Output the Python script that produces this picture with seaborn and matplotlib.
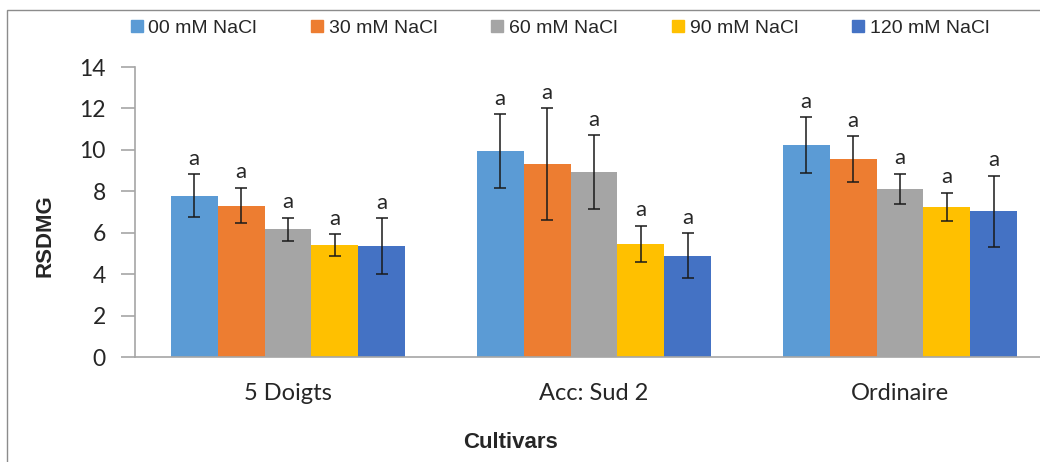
import matplotlib
matplotlib.use("Agg")
import matplotlib.pyplot as plt
from matplotlib.patches import Rectangle
from matplotlib.lines import Line2D
import numpy as np
import pandas as pd
import seaborn as sns

# Cultivars and salt treatments
cultivars = ["5 Doigts", "Acc: Sud 2", "Ordinaire"]
treatments = ["00 mM NaCl", "30 mM NaCl", "60 mM NaCl", "90 mM NaCl", "120 mM NaCl"]

# Mean RSDMG per treatment, one value per cultivar
mean_00 = [7.79, 9.94, 10.24]
mean_30 = [7.31, 9.31, 9.55]
mean_60 = [6.16, 8.92, 8.11]
mean_90 = [5.40, 5.47, 7.24]
mean_120 = [5.34, 4.90, 7.03]

# Error (± half-range) per treatment
err_00 = [1.03, 1.77, 1.34]
err_30 = [0.85, 2.70, 1.10]
err_60 = [0.57, 1.78, 0.73]
err_90 = [0.53, 0.86, 0.69]
err_120 = [1.35, 1.07, 1.73]

# Significance letters
letters = ["a", "a", "a", "a", "a"]

colors = ["#5B9BD5", "#ED7D31", "#A5A5A5", "#FFC000", "#4472C4"]

means = [mean_00, mean_30, mean_60, mean_90, mean_120]
errs = [err_00, err_30, err_60, err_90, err_120]

rows = []
for t, m, e in zip(treatments, means, errs):
    for c, mv, ev in zip(cultivars, m, e):
        rows.append({"Cultivar": c, "Treatment": t, "RSDMG": mv, "err": ev})
df = pd.DataFrame(rows)

sns.set_theme(style="white")
plt.rcParams["font.family"] = ["Lato", "DejaVu Sans"]

W, H = 1040, 462
fig = plt.figure(figsize=(W / 100, H / 100), dpi=100)

# chart-area border
fig.patches.append(Rectangle((7 / W, -0.1), 1.2, 1.1 - 10 / H, transform=fig.transFigure,
                             fill=False, edgecolor="#8c8c8c", linewidth=1.0, zorder=0))

ax = fig.add_axes([135 / W, 105 / H, (1053 - 135) / W, 290 / H])
sns.barplot(data=df, x="Cultivar", y="RSDMG", hue="Treatment", order=cultivars,
            hue_order=treatments, palette=colors, width=0.767, gap=0,
            errorbar=None, saturation=1, legend=False, ax=ax)

# error bars and letters, bars ordered by hue then category
for i, t in enumerate(treatments):
    sub = df[df["Treatment"] == t].set_index("Cultivar").loc[cultivars]
    bars = ax.containers[i]
    xs = [b.get_x() + b.get_width() / 2 for b in bars]
    ax.errorbar(xs, sub["RSDMG"], yerr=sub["err"], fmt="none", ecolor="#1a1a1a",
                elinewidth=1.1, capsize=4.3, capthick=1.1, zorder=5)
    for x, v, e in zip(xs, sub["RSDMG"], sub["err"]):
        ax.annotate(letters[i], (x, v + e), xytext=(0, 4), textcoords="offset points",
                    ha="center", va="bottom", fontsize=16, color="#262626")
    for b in bars:
        b.set_edgecolor("none")

ax.set_ylim(0, 14)
ax.set_xlim(-0.5, 2.5)
ax.set_yticks(np.arange(0, 15, 2))
ax.set_xlabel("")
ax.set_ylabel("")
for s in ["top", "right"]:
    ax.spines[s].set_visible(False)
for s in ["left", "bottom"]:
    ax.spines[s].set_color("#a6a6a6")
    ax.spines[s].set_linewidth(1.2)
ax.tick_params(axis="y", direction="out", length=10, width=1.2, color="#a6a6a6",
               labelsize=16.5, labelcolor="#262626", pad=11, left=True)
ax.tick_params(axis="x", length=0, labelsize=17, labelcolor="#262626", pad=19)

fig.text(45 / W, 1 - 236 / H, "RSDMG", rotation=90, ha="center", va="center",
         fontsize=16, fontweight="bold", family=["Liberation Sans Narrow", "Liberation Sans"])
fig.text(511 / W, 1 - 443 / H, "Cultivars", ha="center", va="center",
         fontsize=16, fontweight="bold", family=["Liberation Sans Narrow", "Liberation Sans"])

handles = [Line2D([], [], marker="s", linestyle="none", markersize=8,
                  markerfacecolor=c, markeredgecolor=c) for c in colors]
fig.legend(handles, treatments, loc="center", bbox_to_anchor=(558 / W, 1 - 28 / H),
           ncol=5, frameon=False, handletextpad=0.1, columnspacing=2.6,
           handlelength=1.0, prop={"family": "Liberation Sans", "size": 14})

fig.savefig("out.png", dpi=100)
